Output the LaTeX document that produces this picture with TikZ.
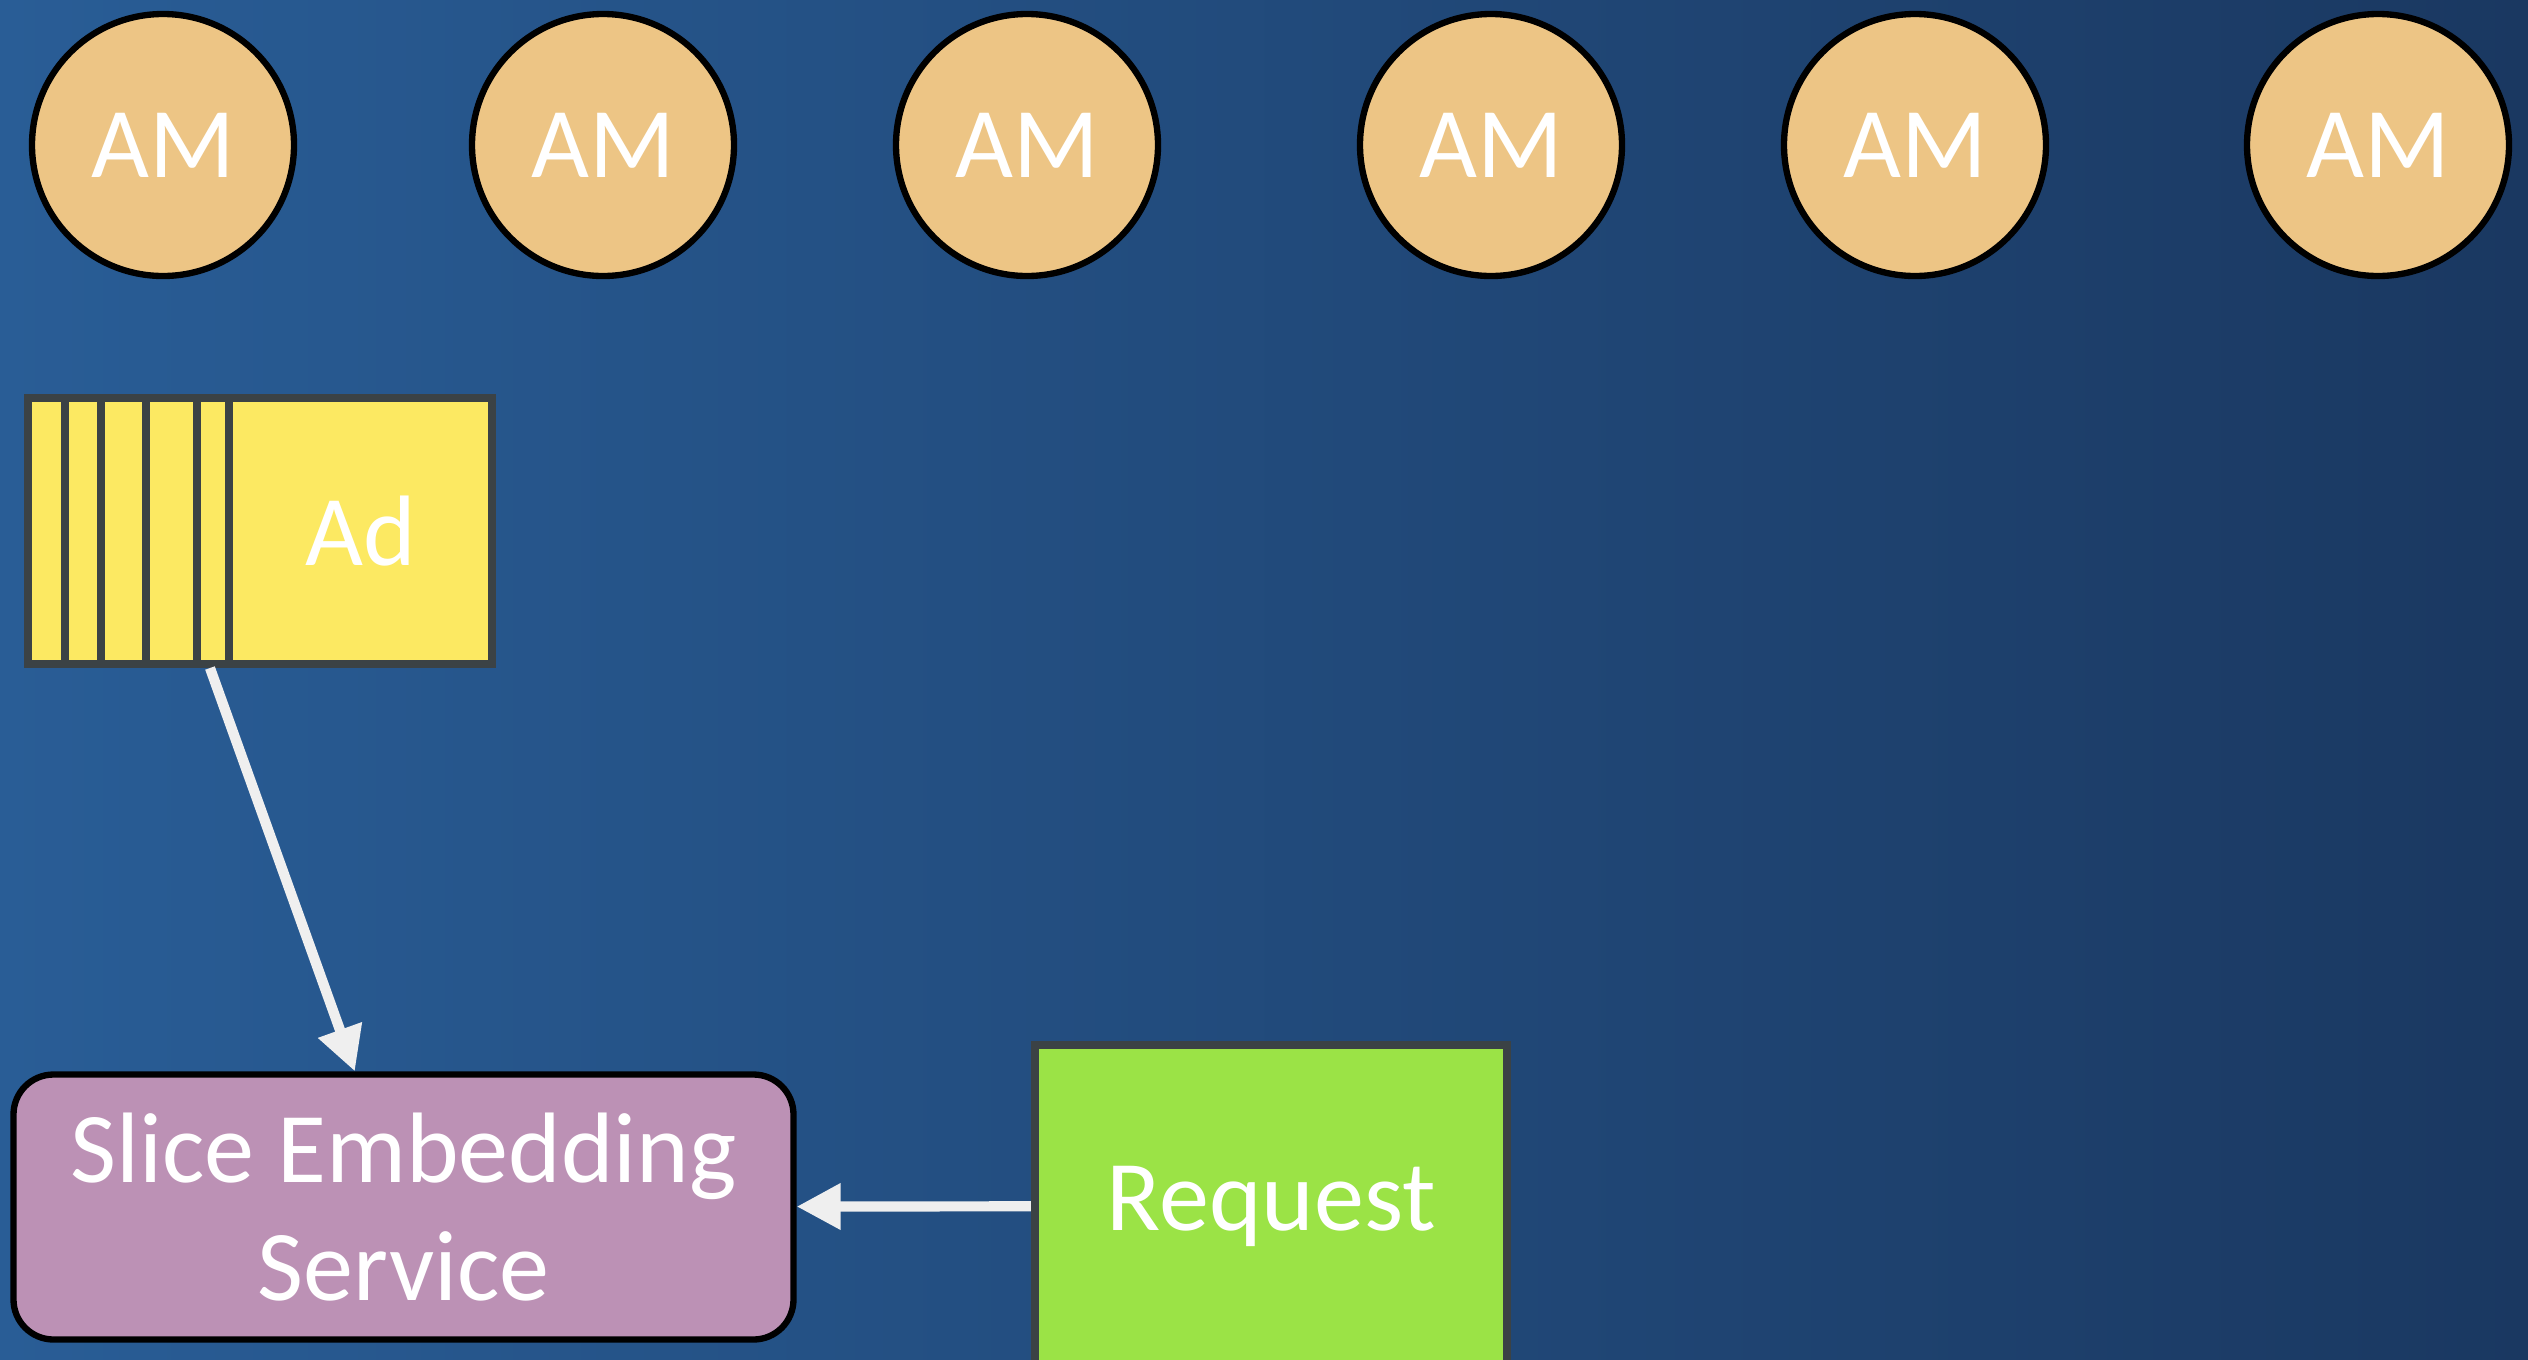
\documentclass[tikz,border=0pt]{standalone}
\usepackage{fontspec}
\setmainfont{Carlito}
\usepackage{xcolor}
\usetikzlibrary{arrows.meta}
\definecolor{bgleft}{RGB}{41,93,150}
\definecolor{bgright}{RGB}{26,56,97}
\definecolor{amtan}{RGB}{237,197,133}
\definecolor{adyellow}{RGB}{252,233,98}
\definecolor{cardgray}{RGB}{59,66,69}
\definecolor{sespurple}{RGB}{188,145,181}
\definecolor{reqgreen}{RGB}{155,227,70}
\definecolor{arrowwhite}{RGB}{239,239,239}
\newcommand{\bigtxt}{\fontsize{28.5}{33.5}\selectfont}

\begin{document}
\begin{tikzpicture}[
    am/.style={circle, draw=black, line width=1.8pt, fill=amtan, minimum size=2.62cm, text=white, font=\bigtxt},
    cardback/.style={draw=cardgray, line width=2.3pt, fill=adyellow},
    block/.style={rectangle, text=white, font=\bigtxt, align=center},
    arrow/.style={-{Triangle[length=0.44cm, width=0.44cm]}, line width=2.9pt, draw=arrowwhite}]

    \clip (0,0) rectangle (25.28,-13.59);
    \shade[left color=bgleft, right color=bgright] (0,0) rectangle (25.28,-13.59);

    % AM row
    \node[am] (am1) at (1.63,-1.45) {AM};
    \node[am] (am2) at (6.03,-1.45) {AM};
    \node[am] (am3) at (10.27,-1.45) {AM};
    \node[am] (am4) at (14.91,-1.45) {AM};
    \node[am] (am5) at (19.15,-1.45) {AM};
    \node[am] (am6) at (23.78,-1.45) {AM};

    % Ad stack
    \foreach \l in {0.28,0.65,1.01,1.46,1.97}
        \draw[cardback] (\l,-3.98) rectangle (4.92,-6.64);
    \node[block, draw=cardgray, line width=2.3pt, fill=adyellow, minimum width=2.63cm, minimum height=2.66cm] (ad) at (3.605,-5.31) {Ad};
    \coordinate (adfoot) at (2.10,-6.68);

    % Service and request
    \node[block, draw=black, line width=1.8pt, fill=sespurple, rounded corners=0.4cm, minimum width=7.80cm, minimum height=2.65cm] (ses) at (4.035,-12.07) {Slice Embedding\\Service};
    \node[block, draw=cardgray, line width=2.3pt, fill=reqgreen, minimum width=4.72cm, minimum height=3.22cm] (req) at (12.71,-12.06) {Request};

    % Arrows
    \draw[arrow] (adfoot) -- (ses);
    \draw[arrow] (req) -- (ses);

\end{tikzpicture}
\end{document}
